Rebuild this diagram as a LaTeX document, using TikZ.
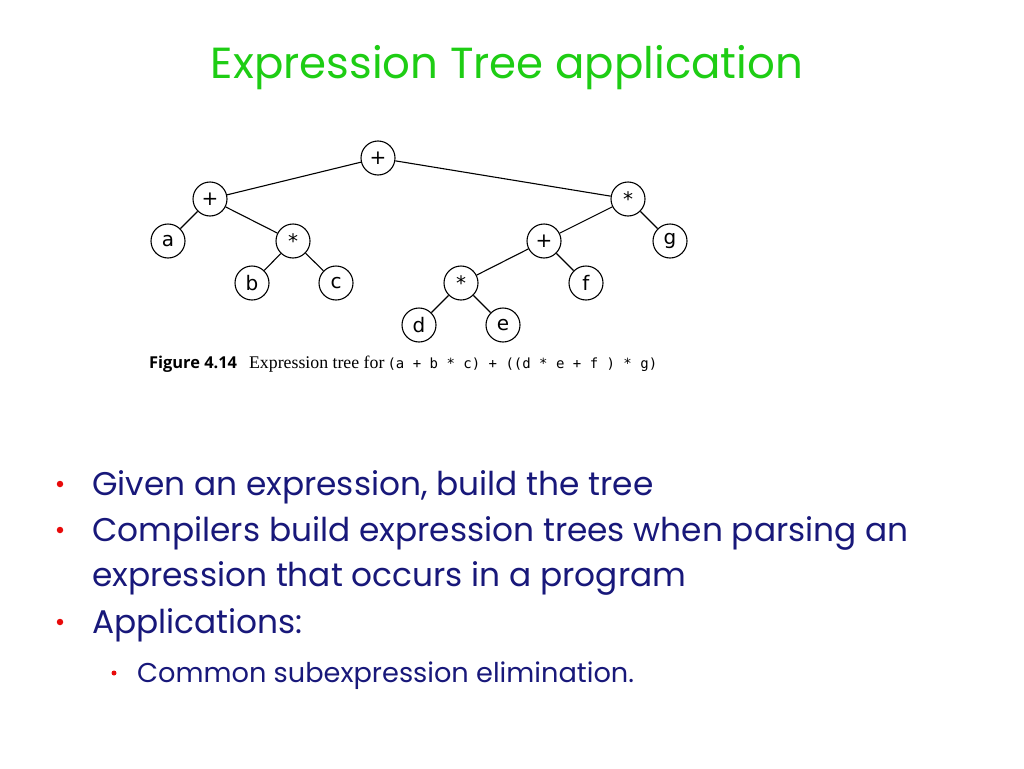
\documentclass[tikz,border=0pt]{standalone}
\usepackage{fontspec}
\setmainfont{Poppins}
\newfontfamily\treefont{DejaVu Sans}
\newfontfamily\capbold{Open Sans}
\newfontfamily\capserif{Liberation Serif}
\newfontfamily\capmono{DejaVu Sans Mono}
\usetikzlibrary{positioning}

\definecolor{titlegreen}{RGB}{30,205,20}
\definecolor{textnavy}{RGB}{24,24,122}
\definecolor{dotred}{RGB}{232,10,10}

\begin{document}
\begin{tikzpicture}[x=1pt, y=-1pt,
    vertex/.style={draw, circle, minimum size=34pt, inner sep=0pt, line width=1.1pt,
        font=\treefont\fontsize{20}{20}\selectfont},
    edge/.style={line width=1.1pt},
    item/.style={anchor=base west, inner sep=0pt, text=textnavy,
        font=\fontsize{32.8}{38}\selectfont},
    subitem/.style={anchor=base west, inner sep=0pt, text=textnavy,
        font=\fontsize{27.2}{32}\selectfont},
    dot/.style={fill=dotred, circle, inner sep=0pt, minimum size=6.5pt},
    subdot/.style={fill=dotred, circle, inner sep=0pt, minimum size=5pt}
]
\useasboundingbox (0,0) rectangle (1024,768);

% Title
\node[anchor=base, inner sep=0pt, text=titlegreen, font=\fontsize{43.5}{50}\selectfont]
    (title) at (507,78) {Expression Tree application};

% Tree nodes
\node[vertex] (root) at (378,158) {+};
\node[vertex] (plusL) at (210,199) {+};
\node[vertex] (a) at (168,241) {a};
\node[vertex] (timesL) at (293,241) {*};
\node[vertex] (b) at (252,283) {b};
\node[vertex] (c) at (336,283) {c};
\node[vertex] (timesR) at (628,199) {*};
\node[vertex] (plusR) at (544,241) {+};
\node[vertex] (g) at (670,241) {g};
\node[vertex] (timesDE) at (461,283) {*};
\node[vertex] (f) at (586,283) {f};
\node[vertex] (d) at (419,325) {d};
\node[vertex] (e) at (503,325) {e};

% Edges
\draw[edge] (root) -- (plusL);
\draw[edge] (root) -- (timesR);
\draw[edge] (plusL) -- (a);
\draw[edge] (plusL) -- (timesL);
\draw[edge] (timesL) -- (b);
\draw[edge] (timesL) -- (c);
\draw[edge] (timesR) -- (plusR);
\draw[edge] (timesR) -- (g);
\draw[edge] (plusR) -- (timesDE);
\draw[edge] (plusR) -- (f);
\draw[edge] (timesDE) -- (d);
\draw[edge] (timesDE) -- (e);

% Caption
\node[anchor=base west, inner sep=0pt] (caption) at (149,368)
    {{\capbold\bfseries\fontsize{16.4}{18}\selectfont Figure 4.14}\hspace{12pt}{\capserif\fontsize{17.8}{18}\selectfont Expression tree for}\hspace{3pt}{\capmono\fontsize{14}{18}\selectfont (a + b * c) + ((d * e + f ) * g)}};

% Bullets
\node[dot] (d1) at (60,484) {};
\node[item] (t1) at (92,495) {Given an expression, build the tree};
\node[dot] (d2) at (60,530) {};
\node[item] (t2) at (92,541) {Compilers build expression trees when parsing an};
\node[item] (t2b) at (92,586) {expression that occurs in a program};
\node[dot] (d3) at (60,622) {};
\node[item] (t3) at (92,633) {Applications:};
\node[subdot] (d4) at (114,673) {};
\node[subitem] (t4) at (137,682) {Common subexpression elimination.};

\end{tikzpicture}
\end{document}
